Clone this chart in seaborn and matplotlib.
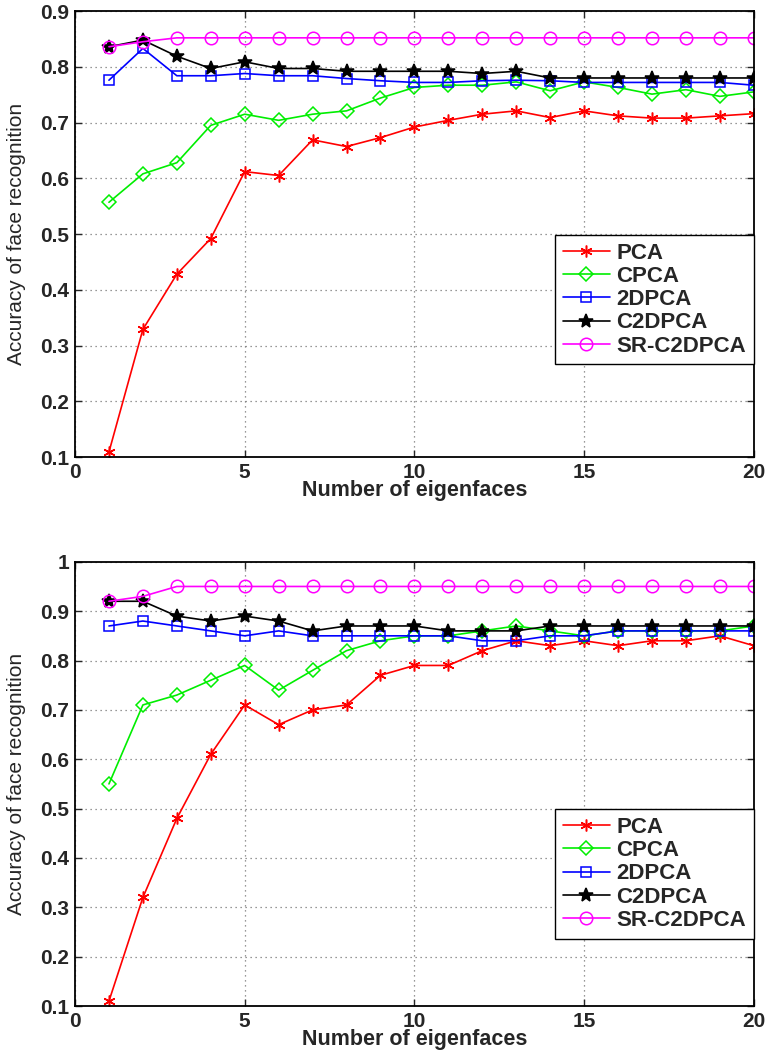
import seaborn as sns
import matplotlib.pyplot as plt
import pandas as pd

# number of eigenfaces
eigenfaces = list(range(1, 21))
methods = ['PCA', 'CPCA', '2DPCA', 'C2DPCA', 'SR-C2DPCA']

# top panel
pca_a = [0.109, 0.329, 0.428, 0.492, 0.612, 0.605, 0.669, 0.657, 0.673, 0.692,
         0.704, 0.715, 0.721, 0.709, 0.721, 0.712, 0.708, 0.708, 0.712, 0.716]
cpca_a = [0.557, 0.608, 0.628, 0.695, 0.715, 0.704, 0.715, 0.721, 0.744, 0.763,
          0.767, 0.767, 0.773, 0.757, 0.773, 0.763, 0.751, 0.759, 0.747, 0.755]
pca2d_a = [0.776, 0.833, 0.784, 0.784, 0.788, 0.784, 0.784, 0.779, 0.775, 0.772,
           0.772, 0.775, 0.776, 0.775, 0.772, 0.772, 0.772, 0.772, 0.772, 0.767]
c2dpca_a = [0.836, 0.848, 0.819, 0.797, 0.809, 0.797, 0.797, 0.792, 0.792, 0.792,
            0.792, 0.788, 0.792, 0.780, 0.780, 0.780, 0.780, 0.780, 0.780, 0.780]
sr_a = [0.836, 0.845] + [0.852] * 18

# bottom panel
pca_b = [0.11, 0.32, 0.48, 0.61, 0.71, 0.67, 0.70, 0.71, 0.77, 0.79,
         0.79, 0.82, 0.84, 0.83, 0.84, 0.83, 0.84, 0.84, 0.85, 0.83]
cpca_b = [0.55, 0.71, 0.73, 0.76, 0.79, 0.74, 0.78, 0.82, 0.84, 0.85,
          0.85, 0.86, 0.87, 0.86, 0.85, 0.86, 0.86, 0.86, 0.86, 0.87]
pca2d_b = [0.87, 0.88, 0.87, 0.86, 0.85, 0.86, 0.85, 0.85, 0.85, 0.85,
           0.85, 0.84, 0.84, 0.85, 0.85, 0.86, 0.86, 0.86, 0.86, 0.86]
c2dpca_b = [0.92, 0.92, 0.89, 0.88, 0.89, 0.88, 0.86, 0.87, 0.87, 0.87,
            0.86, 0.86, 0.86, 0.87, 0.87, 0.87, 0.87, 0.87, 0.87, 0.87]
sr_b = [0.92, 0.93] + [0.95] * 18

colors = {'PCA': '#ff0000', 'CPCA': '#00ee00', '2DPCA': '#0000ff',
          'C2DPCA': '#000000', 'SR-C2DPCA': '#ff00ff'}
markers = {'PCA': (6, 2, 0), 'CPCA': 'D', '2DPCA': 's', 'C2DPCA': '*', 'SR-C2DPCA': 'o'}
msizes = {'PCA': 8.5, 'CPCA': 7, '2DPCA': 7, 'C2DPCA': 10, 'SR-C2DPCA': 9}

sns.set_style('ticks')
plt.rcParams['font.family'] = ['Liberation Sans', 'DejaVu Sans']


def draw_panel(ax, series, ylim, yticks, legend_top):
    for name, vals in zip(methods, series):
        df = pd.DataFrame({'x': eigenfaces, 'y': vals})
        fill = colors[name] if name == 'C2DPCA' else 'none'
        sns.lineplot(data=df, x='x', y='y', ax=ax, color=colors[name],
                     marker=markers[name], markersize=msizes[name],
                     markerfacecolor=fill, markeredgecolor=colors[name],
                     markeredgewidth=1.1, linewidth=1.2, label=name)
    ax.set_xlim(0, 20)
    ax.set_ylim(*ylim)
    ax.set_xticks([0, 5, 10, 15, 20])
    ax.set_yticks(yticks)
    ax.set_yticklabels(['1' if t == 1 else '%.1f' % t for t in yticks])
    ax.grid(True, linestyle=(0, (1, 3)), color='#777777', linewidth=0.9)
    ax.tick_params(direction='in', top=True, right=True, length=5, width=1,
                   labelsize=15, pad=4)
    for lab in ax.get_xticklabels() + ax.get_yticklabels():
        lab.set_fontweight('bold')
    for sp in ax.spines.values():
        sp.set_visible(True)
        sp.set_linewidth(1.3)
        sp.set_color('black')
    ax.set_xlabel('Number of eigenfaces', fontsize=15.5, fontweight='bold', labelpad=-1)
    ax.set_ylabel('Accuracy of face recognition', fontsize=15)
    ax.yaxis.set_label_coords(-0.072, 0.5)
    leg = ax.legend(loc='upper right', bbox_to_anchor=(1.0, legend_top),
                    borderaxespad=0, fancybox=False, framealpha=1,
                    edgecolor='black', handlelength=2.1, handletextpad=0.3,
                    labelspacing=0.1, borderpad=0.35,
                    prop={'weight': 'bold', 'size': 16})
    leg.get_frame().set_linewidth(1.0)


fig = plt.figure(figsize=(7.67, 10.55), dpi=100)
ax1 = fig.add_axes([0.0978, 0.5668, 0.885, 0.4227])
ax2 = fig.add_axes([0.0978, 0.0464, 0.885, 0.4211])

draw_panel(ax1, [pca_a, cpca_a, pca2d_a, c2dpca_a, sr_a], (0.1, 0.9),
           [0.1, 0.2, 0.3, 0.4, 0.5, 0.6, 0.7, 0.8, 0.9], 0.498)
draw_panel(ax2, [pca_b, cpca_b, pca2d_b, c2dpca_b, sr_b], (0.1, 1.0),
           [0.1, 0.2, 0.3, 0.4, 0.5, 0.6, 0.7, 0.8, 0.9, 1.0], 0.443)

fig.savefig('out.png', dpi=100)
